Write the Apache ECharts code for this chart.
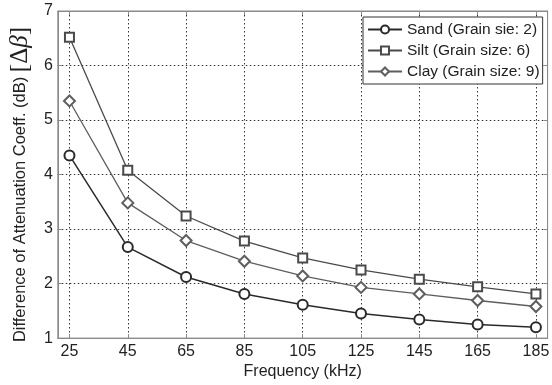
<!DOCTYPE html>
<html>
<head>
<meta charset="utf-8">
<script src="https://cdn.jsdelivr.net/npm/echarts@6/dist/echarts.min.js"></script>
<style>html,body{margin:0;padding:0;background:#fff}#c{width:552px;height:385px}</style>
</head>
<body>
<div id="c"></div>
<script>
var frequencies = [25, 45, 65, 85, 105, 125, 145, 165, 185];
var sand = [4.35, 2.67, 2.12, 1.81, 1.61, 1.45, 1.34, 1.25, 1.20];
var silt = [6.52, 4.08, 3.24, 2.78, 2.47, 2.25, 2.08, 1.94, 1.81];
var clay = [5.35, 3.48, 2.79, 2.41, 2.14, 1.93, 1.81, 1.69, 1.58];
var yTicks = [1, 2, 3, 4, 5, 6, 7];
var seriesNames = ['Sand (Grain sie: 2)', 'Silt (Grain size: 6)', 'Clay (Grain size: 9)'];

function pairs(vals) { return frequencies.map(function (f, i) { return [f, vals[i]]; }); }

var FONT = 'Liberation Sans, Arial, sans-serif';
var frame = '#8a8a8a';
var chart = echarts.init(document.getElementById('c'), null, {renderer: 'canvas'});

function mkSeries(name, vals, sym, size, color, width) {
  return {
    name: name, type: 'line', data: pairs(vals),
    symbol: sym, symbolSize: size, showSymbol: true,
    lineStyle: {color: color, width: width},
    itemStyle: {color: color, borderColor: color, borderWidth: 1.2},
    emphasis: {disabled: true}, animation: false
  };
}

chart.setOption({
  animation: false,
  backgroundColor: '#fff',
  grid: {left: 46, right: 3, top: 11, bottom: 44, show: true, borderColor: frame, borderWidth: 1, backgroundColor: 'transparent'},
  legend: {
    orient: 'vertical', left: 363, top: 17,
    padding: [4, 3, 4, 4],
    itemGap: 4, itemWidth: 34, itemHeight: 10,
    backgroundColor: '#fff', borderColor: '#333', borderWidth: 1,
    textStyle: {fontFamily: FONT, fontSize: 15.5, color: '#222', lineHeight: 17},
    data: seriesNames
  },
  xAxis: [{
    type: 'value', min: 21, max: 189,
    name: 'Frequency (kHz)', nameLocation: 'middle', nameGap: 23,
    nameTextStyle: {fontFamily: FONT, fontSize: 16, color: '#222'},
    axisLine: {show: true, lineStyle: {color: frame}},
    axisTick: {show: true, inside: true, length: 4, lineStyle: {color: frame}, customValues: frequencies},
    axisLabel: {fontFamily: FONT, fontSize: 16, color: '#222', margin: 5, customValues: frequencies},
    splitLine: {show: true, lineStyle: {color: '#333', type: [1.5, 2.5], width: 1}}
  }, {
    type: 'value', min: 21, max: 189, position: 'top',
    axisLine: {show: true, lineStyle: {color: frame}},
    axisTick: {show: true, inside: true, length: 4, lineStyle: {color: frame}, customValues: frequencies},
    axisLabel: {show: false},
    splitLine: {show: false}
  }],
  yAxis: [{
    type: 'value', min: 1, max: 7, interval: 1,
    name: '{a|Difference of Attenuation Coeff. (dB) }{b|[Δ}{c|β}{b|]}',
    nameLocation: 'middle', nameGap: 24,
    nameTextStyle: {
      fontFamily: FONT, fontSize: 16.5, color: '#222', padding: [0, 20, 0, 0],
      rich: {
        a: {fontFamily: FONT, fontSize: 16.5, color: '#222'},
        b: {fontFamily: 'Liberation Serif, serif', fontSize: 25, color: '#222'},
        c: {fontFamily: 'Liberation Serif, serif', fontSize: 25, fontStyle: 'italic', color: '#222'}
      }
    },
    axisLine: {show: true, lineStyle: {color: frame}},
    axisTick: {show: true, inside: true, length: 4, lineStyle: {color: frame}},
    axisLabel: {fontFamily: FONT, fontSize: 16, color: '#222', margin: 5},
    splitLine: {show: true, lineStyle: {color: '#333', type: [1.5, 2.5], width: 1}}
  }, {
    type: 'value', min: 1, max: 7, interval: 1, position: 'right',
    axisLine: {show: true, lineStyle: {color: frame}},
    axisTick: {show: true, inside: true, length: 4, lineStyle: {color: frame}},
    axisLabel: {show: false},
    splitLine: {show: false}
  }],
  series: [
    mkSeries(seriesNames[0], sand, 'emptyCircle', 10, '#2a2a2a', 1.5),
    mkSeries(seriesNames[1], silt, 'emptyRect', 9, '#4a4a4a', 1.3),
    mkSeries(seriesNames[2], clay, 'emptyDiamond', 11, '#5e5e5e', 1.3)
  ]
});
</script>
</body>
</html>
